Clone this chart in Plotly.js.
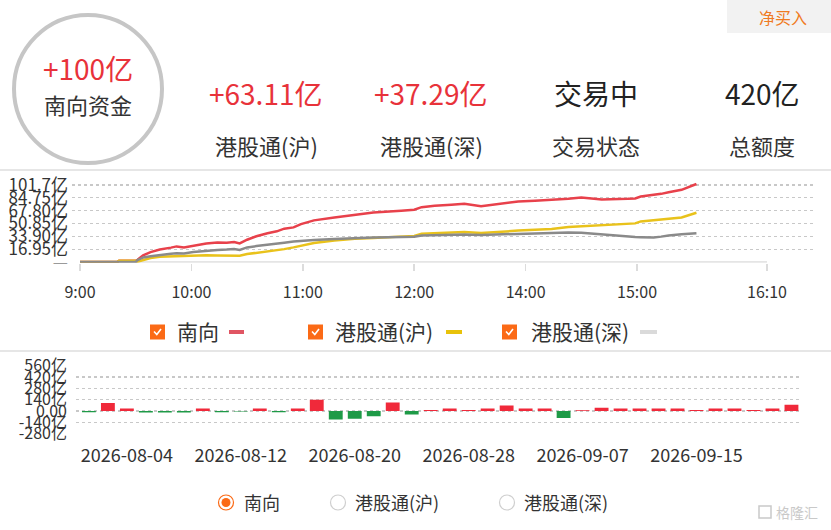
<!DOCTYPE html>
<html><head><meta charset="utf-8">
<script src="https://cdn.plot.ly/plotly-3.0.1.min.js"></script>
<style>html,body{margin:0;padding:0;background:#fff}#chart{width:831px;height:530px}</style>
</head><body><div id="chart"></div>
<script>
const W = 831, H = 530;

// ---- intraday net inflow (亿) ----
const times = ["09:00","09:20","09:21","09:30","09:31","09:34","09:38","09:43","09:49","09:52","09:56","10:01","10:08","10:14","10:19","10:23","10:26","10:30","10:35","10:41","10:46","10:50","10:55","10:59","11:06","11:17","11:28","11:38","11:53","12:00","13:04","13:11","13:20","13:27","13:36","13:47","13:56","14:05","14:14","14:23","14:30","14:41","14:55","14:59","15:02","15:09","15:13","15:17","15:24","15:32"];
const southbound = [0,0,1.5,1.6,3,8.8,13,16.5,19,20.6,19.3,21.5,24.5,25.8,25.5,26.5,24.5,29.4,34,38,40.5,44,45.7,50,55,58.8,62.3,65.4,67.6,69,72.4,74.2,75.5,76.8,73.8,77.7,79.9,80.8,81.7,83.4,85.2,82.5,83.4,84,86.5,88.5,90,92,95.3,103];
const shConnect  = [0,0,1.5,1.5,0.5,3,5.3,6.8,7.5,7.8,7.6,8.8,9,8.6,8.2,8.5,8.3,10.5,12,13.5,15.5,17,19.3,21.5,25,28.5,30.7,31.6,33.8,34.5,37.3,38,38.6,39.5,38.2,40.4,41.5,42.6,43.5,46.1,47,47.9,50,51,53.6,55,55.8,56.8,58.8,65];
const szConnect  = [0,0,0,0.1,2.5,6,7.5,9.3,10.8,11.5,11.3,13.3,15.2,16,16.5,17.2,15.8,19.3,21,22.5,23.7,25.5,27,28,29,30.3,31.6,32.5,33,33.5,35.1,35.5,36,36.4,35.8,36.9,37.3,37.8,38.3,39,38.5,36,33.4,32.9,32.8,32.5,33.5,35.1,36.5,38];
const timeTickLabels = ["9:00","10:00","11:00","12:00","14:00","15:00","16:10"];
const yTopTicks  = [0,16.95,33.90,50.85,67.80,84.75,101.7];
const yTopLabels = ['<span style="color:#9a9a9a">—</span>',"16.95亿","33.90亿","50.85亿","67.80亿","84.75亿","101.7亿"];

// ---- daily southbound net buy (亿) ----
const dates = ["2026-07-31","2026-08-03","2026-08-04","2026-08-05","2026-08-06","2026-08-07","2026-08-10","2026-08-11","2026-08-12","2026-08-13","2026-08-14","2026-08-17","2026-08-18","2026-08-19","2026-08-20","2026-08-21","2026-08-24","2026-08-25","2026-08-26","2026-08-27","2026-08-28","2026-08-31","2026-09-01","2026-09-02","2026-09-03","2026-09-04","2026-09-07","2026-09-08","2026-09-09","2026-09-10","2026-09-11","2026-09-14","2026-09-15","2026-09-16","2026-09-17","2026-09-18","2026-09-21","2026-09-22"];
const dailyNet = [-15,100,30,-18,-18,-18,30,-15,-5,30,-15,30,140,-105,-95,-65,105,-42,12,32,12,32,68,32,32,-88,10,40,32,32,32,32,12,32,32,12,32,78];
const dateTickLabels = ["2026-08-04","2026-08-12","2026-08-20","2026-08-28","2026-09-07","2026-09-15"];
const yBotTicks  = [-280,-140,0,140,280,420,560];
const yBotLabels = ["-280亿","-140亿","0.00","140亿","280亿","420亿","560亿"];

// ---- header ----
const headerValues = ["+63.11亿","+37.29亿","交易中","420亿"];
const headerLabels = ["港股通(沪)","港股通(深)","交易状态","总额度"];
const seriesNames = ["南向","港股通(沪)","港股通(深)"];

const FONT = '"Noto Sans CJK SC","Noto Sans",sans-serif';
const px = x => x / W;
const py = y => 1 - y / H;
function tmin(s){ const [h,m] = s.split(":").map(Number); let v = h*60+m-540; if (v >= 240) v -= 60; return v; }

const RED = "#e8414b", YEL = "#e9c21b", GRY = "#8a8a8a";
const xs = times.map(tmin);

const traces = [
  {x: xs, y: southbound, name: seriesNames[0], type: "scatter", mode: "lines", line: {color: RED, width: 2.5}, xaxis: "x", yaxis: "y"},
  {x: xs, y: shConnect,  name: seriesNames[1], type: "scatter", mode: "lines", line: {color: YEL, width: 2.5}, xaxis: "x", yaxis: "y"},
  {x: xs, y: szConnect,  name: seriesNames[2], type: "scatter", mode: "lines", line: {color: GRY, width: 2.5}, xaxis: "x", yaxis: "y"},
  {x: dates, y: dailyNet, type: "bar", xaxis: "x2", yaxis: "y2",
   marker: {color: dailyNet.map(v => v >= 0 ? "#f0293a" : "#1e9a47")}}
];

// top plot geometry
const pxPerMin = (767 - 80) / tmin("16:10");
const topXRange = [-(80 - 72) / pxPerMin, (813 - 80) / pxPerMin];
const topPxPerUnit = (262 - 185) / 101.7;
const topYRange = [-1, 105];
const topDomain = [py(262 + 1 * topPxPerUnit), py(262 - 105 * topPxPerUnit)];

// bottom plot geometry
const botPxPerUnit = (433 - 365) / 840;
const botYRange = [-285, 565];
const botDomain = [py(411 + 285 * botPxPerUnit), py(411 - 565 * botPxPerUnit)];

const shapes = [
  {type: "line", xref: "paper", yref: "paper", x0: 0, x1: 1, y0: py(170), y1: py(170), line: {color: "#e6e6e6", width: 2}},
  {type: "line", xref: "paper", yref: "paper", x0: 0, x1: 1, y0: py(351), y1: py(351), line: {color: "#e6e6e6", width: 2}},
  // button
  {type: "rect", xref: "paper", yref: "paper", x0: px(727), x1: px(831), y0: py(33), y1: py(0), fillcolor: "#f2f2f2", line: {width: 0}},
  // big circle
  {type: "circle", xref: "paper", yref: "paper", x0: px(14), x1: px(162), y0: py(163), y1: py(15), line: {color: "#c6c6c6", width: 4}},
  // baseline of intraday axis
  {type: "line", xref: "x", yref: "y", x0: tmin("09:00"), x1: tmin("16:10"), y0: 0, y1: 0, line: {color: "#dcdcdc", width: 1.5}, layer: "below"},
];

const annotations = [];
function txt(x, y, text, size, color, extra){ annotations.push(Object.assign({xref: "paper", yref: "paper", x: px(x), y: py(y), text, showarrow: false, xanchor: "center", yanchor: "middle", font: {family: FONT, size, color}}, extra || {})); }

txt(783, 17, "净买入", 16, "#f07a22");
txt(88, 68, "+100亿", 28, "#e8323a");
txt(88, 104, "南向资金", 22, "#333");
const colX = [266, 431, 596, 762];
headerValues.forEach((v, i) => txt(colX[i], 93, v, 28, i < 2 ? "#e8323a" : "#222"));
headerLabels.forEach((v, i) => txt(colX[i], 145, v, 22, "#333"));

// top legend (checkbox + name + line sample)
const legItems = [
  {box: 150, text: 175, dash: [229, 244], color: "#e05563"},
  {box: 308, text: 333, dash: [446, 462], color: "#e8c20a"},
  {box: 502, text: 529, dash: [640, 657], color: "#dadada"},
];
legItems.forEach((it, i) => {
  shapes.push({type: "rect", xref: "paper", yref: "paper", x0: px(it.box), x1: px(it.box + 15), y0: py(339.5), y1: py(324.5), fillcolor: "#fb6a16", line: {width: 0}});
  shapes.push({type: "path", xref: "paper", yref: "paper",
    path: `M ${px(it.box + 4)} ${py(331.5)} L ${px(it.box + 6.8)} ${py(334.5)} L ${px(it.box + 11)} ${py(329)}`,
    line: {color: "#fff", width: 1.6}});
  txt(it.text, 331, seriesNames[i], 21, "#333", {xanchor: "left"});
  shapes.push({type: "line", xref: "paper", yref: "paper", x0: px(it.dash[0]), x1: px(it.dash[1]), y0: py(332), y1: py(332), line: {color: it.color, width: 4}});
});

// bottom radio legend
const radios = [{c: 226, t: 242, on: true}, {c: 338, t: 353, on: false}, {c: 507, t: 522, on: false}];
radios.forEach((r, i) => {
  shapes.push({type: "circle", xref: "paper", yref: "paper", x0: px(r.c - 7.5), x1: px(r.c + 7.5), y0: py(510), y1: py(495),
    fillcolor: "#fff", line: {color: r.on ? "#fb6a16" : "#cfcfcf", width: 1.2}});
  if (r.on) shapes.push({type: "circle", xref: "paper", yref: "paper", x0: px(r.c - 4.5), x1: px(r.c + 4.5), y0: py(507), y1: py(498), fillcolor: "#fb6a16", line: {width: 0}});
  txt(r.t, 502, seriesNames[i], 18, "#333", {xanchor: "left"});
});

// watermark
shapes.push({type: "rect", xref: "paper", yref: "paper", x0: px(759), x1: px(771), y0: py(518), y1: py(506), line: {color: "#c9c9c9", width: 1.5}});
txt(774, 512, "格隆汇", 14, "#c9c9c9", {xanchor: "left"});

const layout = {
  width: W, height: H, margin: {l: 0, r: 0, t: 0, b: 0},
  paper_bgcolor: "#fff", plot_bgcolor: "#fff", showlegend: false, bargap: 0.27,
  font: {family: FONT, color: "#333"},
  xaxis: {domain: [px(72), px(813)], range: topXRange, anchor: "y", showgrid: false, zeroline: false, showline: false,
    tickvals: timeTickLabels.map(tmin), ticktext: timeTickLabels, ticks: "outside", ticklen: 7, tickcolor: "#dcdcdc", tickwidth: 1.5,
    tickfont: {size: 16, color: "#333"}, ticklabelstandoff: 8, fixedrange: true},
  yaxis: {domain: topDomain, range: topYRange, anchor: "x", tickvals: yTopTicks, ticktext: yTopLabels,
    showgrid: true, gridcolor: "#c8c8c8", griddash: "dot", gridwidth: 1.2, zeroline: false, showline: false, ticks: "",
    tickfont: {size: 17, color: "#333"}, ticklabelstandoff: 3, fixedrange: true},
  xaxis2: {domain: [px(76), px(800)], type: "category", range: [-0.68, 37.45], anchor: "y2",
    tickvals: dateTickLabels, ticktext: dateTickLabels, showgrid: false, zeroline: false, showline: false, ticks: "",
    tickfont: {size: 18, color: "#333"}, ticklabelstandoff: 9, fixedrange: true},
  yaxis2: {domain: botDomain, range: botYRange, anchor: "x2", tickvals: yBotTicks, ticktext: yBotLabels,
    showgrid: true, gridcolor: "#c8c8c8", griddash: "dot", gridwidth: 1.2, zeroline: false, showline: false, ticks: "",
    tickfont: {size: 16, color: "#333"}, ticklabelstandoff: 8, fixedrange: true},
  shapes, annotations
};

Plotly.newPlot("chart", traces, layout, {displayModeBar: false, staticPlot: true});
</script>
</body></html>
